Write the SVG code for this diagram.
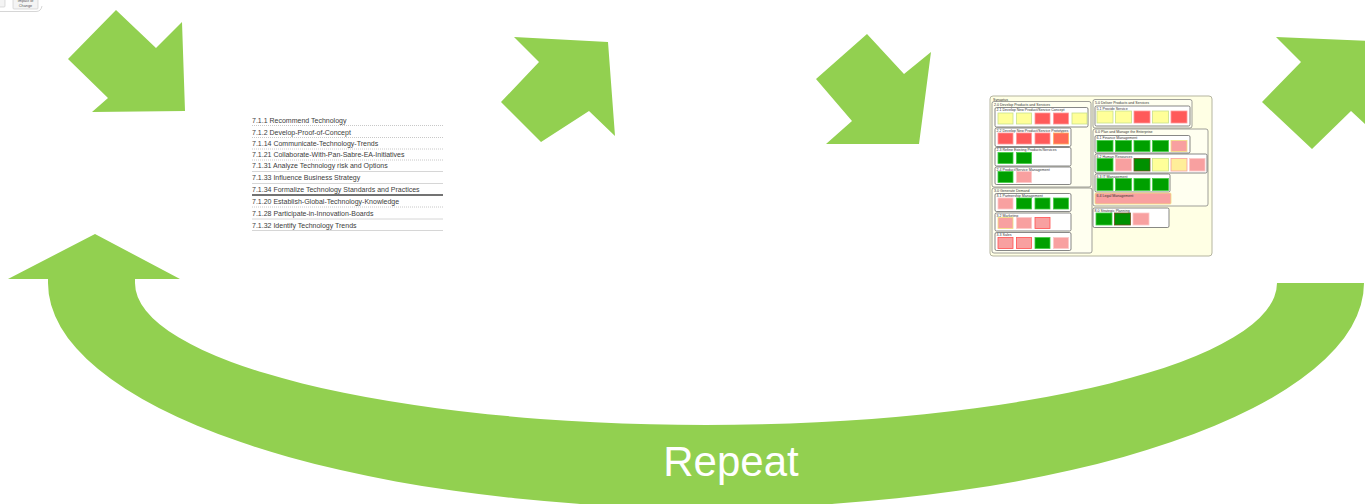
<svg xmlns="http://www.w3.org/2000/svg" width="1365" height="504" viewBox="0 0 1365 504">
<style>
.ar{fill:#92D050}
.lt{font-family:'Liberation Sans',Arial,sans-serif;font-size:7px;fill:#3c3c3c}
.dot{stroke:#c8c8c8;stroke-width:1;stroke-dasharray:1 1}
.sol{stroke:#ccc;stroke-width:0.8}
.frame{fill:#ffffe4;stroke:#b5b5a0;stroke-width:1}
.grp{fill:#fffff0;stroke:#777;stroke-width:0.7}
.sub{fill:#fff;stroke:#555;stroke-width:0.7}
.mt{font-family:'Liberation Sans',Arial,sans-serif;font-size:3.6px;fill:#333}
.r{fill:#ff5a5a;stroke:#ff9a9a;stroke-width:0.8}
.ro{fill:#ff6a55;stroke:#ffb060;stroke-width:0.8}
.y{fill:#ffff99;stroke:#c8e08a;stroke-width:0.8}
.g{fill:#00a000;stroke:#44cc44;stroke-width:0.8}
.gd{fill:#009000;stroke:#705020;stroke-width:0.8}
.p{fill:#f8a0a0;stroke:#fcc8c8;stroke-width:0.8}
.py{fill:#f8a0a0;stroke:#f0e080;stroke-width:0.8}
.pr{fill:#f8a0a0;stroke:#ff5050;stroke-width:0.8}
.yp{fill:#ffee99;stroke:#f8a0a0;stroke-width:0.8}
.btn{fill:#f4f4f4;stroke:#c8c8c8;stroke-width:0.6}
</style>

<g id="toolbar">
<rect class="btn" x="-2" y="-2" width="7" height="9" rx="1"/>
<rect class="btn" x="13" y="-2" width="25" height="11" rx="1"/>
<text x="25.5" y="1.5" text-anchor="middle" style="font-family:'Liberation Sans',Arial,sans-serif;font-size:3.8px;fill:#555">Impact of</text>
<text x="25.5" y="6.5" text-anchor="middle" style="font-family:'Liberation Sans',Arial,sans-serif;font-size:3.8px;fill:#555">Change</text>
<path d="M0,11.5 L36,11.5 Q41,11.5 42,6" fill="none" stroke="#ccc" stroke-width="0.8"/>
</g>

<g id="arrows">
<polygon id="arrow1" class="ar" points="116,10 156,48 182,22 185,111 92,112 108,98 68,59"/>
<polygon id="arrow2" class="ar" points="514,37 608,42 615,136 589,111 541,142 501,102 539,62"/>
<polygon id="arrow3" class="ar" points="867,34 904,74 931,52 919,144 826,144 852,121 816,79"/>
<polygon id="arrow4" class="ar" points="1276,37 1372,41 1378,136 1351,111 1312,149 1262,102 1301,62"/>
</g>

<g id="repeat">
<path class="ar" d="M1277,283 L1364,283 A658 225 0 0 1 48 283 L48,279 L8,279 L95,234 L180,279 L135,279 L135,283 A571 142 0 0 0 1277 283 Z"/>
<text x="731" y="476" text-anchor="middle" style="font-family:'Liberation Sans',Arial,sans-serif;font-size:42px;fill:#fff">Repeat</text>
</g>

<g id="list">
<text class="lt" x="252" y="122.5">7.1.1 Recommend Technology</text>
<line class="dot" x1="252" y1="125.5" x2="443" y2="125.5"/>
<text class="lt" x="252" y="134.5">7.1.2 Develop-Proof-of-Concept</text>
<line class="dot" x1="252" y1="137.5" x2="443" y2="137.5"/>
<text class="lt" x="252" y="146">7.1.14 Communicate-Technology-Trends</text>
<line class="dot" x1="252" y1="149" x2="443" y2="149"/>
<text class="lt" x="252" y="157">7.1.21 Collaborate-With-Pan-Sabre-EA-Initiatives</text>
<line class="dot" x1="252" y1="160" x2="443" y2="160"/>
<text class="lt" x="252" y="168">7.1.31 Analyze Technology risk and Options</text>
<line class="sol" x1="252" y1="171.5" x2="443" y2="171.5"/>
<text class="lt" x="252" y="180">7.1.33 Influence Business Strategy</text>
<line class="sol" x1="252" y1="183.5" x2="443" y2="183.5"/>
<text class="lt" x="252" y="191.5">7.1.34 Formalize Technology Standards and Practices</text>
<line x1="252" y1="195" x2="443" y2="195" stroke="#444" stroke-width="1.6"/>
<text class="lt" x="252" y="203.5">7.1.20 Establish-Global-Technology-Knowledge</text>
<line class="dot" x1="252" y1="207" x2="443" y2="207"/>
<text class="lt" x="252" y="215.5">7.1.28 Participate-in-Innovation-Boards</text>
<line class="sol" x1="252" y1="219" x2="443" y2="219" stroke="#e2e2e2"/>
<text class="lt" x="252" y="227.5">7.1.32 Identify Technology Trends</text>
<line class="sol" x1="252" y1="230.5" x2="443" y2="230.5" stroke="#e2e2e2"/>
</g>

<g id="capability-map">
<rect class="frame" x="990" y="96" width="222" height="160" rx="3"/>
<text class="mt" x="993" y="100.5">Synaptus</text>

<g id="g2">
<rect class="grp" x="992" y="101.5" width="99" height="85.5" rx="2"/>
<text class="mt" x="994" y="105.5">2.0 Develop Products and Services</text>
<rect class="sub" x="995" y="107.5" width="93" height="19.5" rx="1.5"/>
<text class="mt" x="996.5" y="111">2.1 Develop New Product/Service Concept</text>
<rect class="y" x="998" y="113" width="15" height="11"/>
<rect class="y" x="1016.5" y="113" width="15" height="11"/>
<rect class="r" x="1035" y="113" width="15" height="11"/>
<rect class="r" x="1053.5" y="113" width="15" height="11"/>
<rect class="y" x="1072" y="113" width="15" height="11"/>
<rect class="sub" x="995" y="128" width="76" height="18.5" rx="1.5"/>
<text class="mt" x="996.5" y="131.5">2.2 Develop New Product/Service Prototypes</text>
<rect class="r" x="998" y="133" width="15" height="11"/>
<rect class="r" x="1016.5" y="133" width="15" height="11"/>
<rect class="r" x="1035" y="133" width="15" height="11"/>
<rect class="ro" x="1053.5" y="133" width="15" height="11"/>
<rect class="sub" x="995" y="147.5" width="76" height="18.5" rx="1.5"/>
<text class="mt" x="996.5" y="151">2.3 Refine Existing Products/Services</text>
<rect class="g" x="998" y="152.5" width="15" height="11"/>
<rect class="g" x="1016.5" y="152.5" width="15" height="11"/>
<rect class="sub" x="995" y="167" width="76" height="17.5" rx="1.5"/>
<text class="mt" x="996.5" y="170.5">2.4 Product/Service Management</text>
<rect class="g" x="998" y="171.5" width="15" height="11"/>
<rect class="p" x="1016.5" y="171.5" width="15" height="11"/>
</g>

<g id="g3">
<rect class="grp" x="992" y="188" width="100" height="65" rx="2"/>
<text class="mt" x="994" y="192">3.0 Generate Demand</text>
<rect class="sub" x="995" y="193.5" width="76" height="18" rx="1.5"/>
<text class="mt" x="996.5" y="197">3.1 Partnership Management</text>
<rect class="p" x="998" y="198" width="15" height="11"/>
<rect class="g" x="1016.5" y="198" width="15" height="11"/>
<rect class="g" x="1035" y="198" width="15" height="11"/>
<rect class="g" x="1053.5" y="198" width="15" height="11"/>
<rect class="sub" x="995" y="213" width="76" height="18" rx="1.5"/>
<text class="mt" x="996.5" y="216.5">3.2 Marketing</text>
<rect class="py" x="998" y="217.5" width="15" height="11"/>
<rect class="p" x="1016.5" y="217.5" width="15" height="11"/>
<rect class="pr" x="1035" y="217.5" width="15" height="11"/>
<rect class="sub" x="995" y="232.5" width="76" height="18" rx="1.5"/>
<text class="mt" x="996.5" y="236">3.3 Sales</text>
<rect class="pr" x="998" y="237.5" width="15" height="11"/>
<rect class="pr" x="1016.5" y="237.5" width="15" height="11"/>
<rect class="g" x="1035" y="237.5" width="15" height="11"/>
<rect class="p" x="1053.5" y="237.5" width="15" height="11"/>
</g>

<g id="g5">
<rect class="grp" x="1093" y="99.5" width="99" height="28.5" rx="2"/>
<text class="mt" x="1095" y="103.5">5.0 Deliver Products and Services</text>
<rect class="sub" x="1095" y="106" width="95" height="20" rx="1.5"/>
<text class="mt" x="1096.5" y="109.5">5.1 Provide Service</text>
<rect class="y" x="1097" y="111" width="16" height="12"/>
<rect class="y" x="1115.5" y="111" width="16" height="12"/>
<rect class="r" x="1134" y="111" width="16" height="12"/>
<rect class="y" x="1152.5" y="111" width="16" height="12"/>
<rect class="r" x="1171" y="111" width="16" height="12"/>
</g>

<g id="g6">
<rect class="grp" x="1093" y="129" width="115" height="77" rx="2"/>
<text class="mt" x="1095" y="133">6.0 Plan and Manage the Enterprise</text>
<rect class="sub" x="1095" y="135.5" width="95" height="17.5" rx="1.5"/>
<text class="mt" x="1096.5" y="139">6.1 Finance Management</text>
<rect class="g" x="1097" y="140.5" width="16" height="11"/>
<rect class="g" x="1115.5" y="140.5" width="16" height="11"/>
<rect class="g" x="1134" y="140.5" width="16" height="11"/>
<rect class="g" x="1152.5" y="140.5" width="16" height="11"/>
<rect class="py" x="1171" y="140.5" width="16" height="11"/>
<rect class="sub" x="1095" y="154" width="112" height="19" rx="1.5"/>
<text class="mt" x="1096.5" y="157.5">6.2 Human Resources</text>
<rect class="g" x="1097" y="158.5" width="16" height="12.5"/>
<rect class="p" x="1115.5" y="158.5" width="16" height="12.5"/>
<rect class="gd" x="1134" y="158.5" width="16" height="12.5"/>
<rect class="y" x="1152.5" y="158.5" width="16" height="12.5"/>
<rect class="yp" x="1171" y="158.5" width="16" height="12.5"/>
<rect class="p" x="1189.5" y="158.5" width="15.5" height="12.5"/>
<rect class="sub" x="1095" y="174" width="75" height="18" rx="1.5"/>
<text class="mt" x="1096.5" y="177.5">6.3 IT Management</text>
<rect class="g" x="1097" y="178.5" width="16" height="12"/>
<rect class="g" x="1115.5" y="178.5" width="16" height="12"/>
<rect class="g" x="1134" y="178.5" width="16" height="12"/>
<rect class="g" x="1152.5" y="178.5" width="16" height="12"/>
<rect class="py" x="1095" y="193" width="76" height="11" rx="1"/>
<text class="mt" x="1096.5" y="197">6.4 Legal Management</text>
</g>

<g id="g8">
<rect class="sub" x="1093" y="208" width="76" height="19.5" rx="1.5"/>
<text class="mt" x="1094.5" y="211.5">8.0 Strategic Planning</text>
<rect class="g" x="1096" y="213" width="16" height="12"/>
<rect class="gd" x="1114.5" y="213" width="16" height="12"/>
<rect class="p" x="1133" y="213" width="16" height="12"/>
</g>
</g>
</svg>
